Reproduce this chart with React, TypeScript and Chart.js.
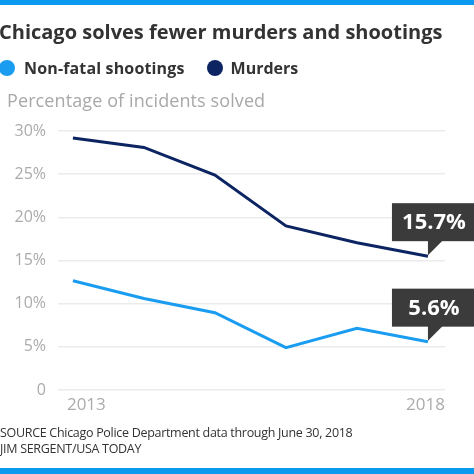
import React, { useEffect, useRef } from "react";
import { Chart, registerables } from "chart.js";

Chart.register(...registerables);

const years = [2013, 2014, 2015, 2016, 2017, 2018];
const nonFatal = [12.65, 10.6, 8.95, 4.9, 7.15, 5.6];
const murders = [29.2, 28.1, 24.9, 19.0, 17.05, 15.5];
const seriesNames = ["Non-fatal shootings", "Murders"];
const seriesColors = ["#1a9cf0", "#0c2462"];
const calloutLabels = ["5.6%", "15.7%"];
const yTicks = [0, 5, 10, 15, 20, 25, 30];
const xLabels = ["2013", "2018"];

const FONT = "'Open Sans', sans-serif";

const calloutPlugin = {
  id: "callouts",
  afterDatasetsDraw(chart: any) {
    const ctx = chart.ctx;
    ctx.save();
    chart.data.datasets.forEach((ds: any, i: number) => {
      const meta = chart.getDatasetMeta(i);
      const pt = meta.data[meta.data.length - 1];
      if (!pt) return;
      const x = pt.x;
      const y = pt.y;
      const bottom = y - 15;
      const top = bottom - 38;
      const left = x - 36;
      const right = chart.width;
      ctx.fillStyle = "#3b3b3b";
      ctx.fillRect(left, top, right - left, bottom - top);
      ctx.beginPath();
      ctx.moveTo(x, bottom - 1);
      ctx.lineTo(x + 15, bottom - 1);
      ctx.lineTo(x, y - 1);
      ctx.closePath();
      ctx.fill();
      ctx.fillStyle = "#ffffff";
      ctx.font = `bold 22px ${FONT}`;
      ctx.textAlign = "center";
      ctx.textBaseline = "middle";
      ctx.fillText(calloutLabels[i], (left + right) / 2 + 1, (top + bottom) / 2 + 1);
    });
    ctx.restore();
  },
};

const xLabelPlugin = {
  id: "xLabels",
  afterDraw(chart: any) {
    const ctx = chart.ctx;
    const xs = chart.scales.x;
    const ca = chart.chartArea;
    ctx.save();
    ctx.fillStyle = "#ababab";
    ctx.font = `17px ${FONT}`;
    ctx.textBaseline = "middle";
    ctx.textAlign = "left";
    ctx.fillText(xLabels[0], xs.getPixelForValue(Number(xLabels[0])) - 6, ca.bottom + 15);
    ctx.textAlign = "right";
    ctx.fillText(xLabels[1], ca.right, ca.bottom + 15);
    ctx.restore();
  },
};

export default function App() {
  const ref = useRef<HTMLCanvasElement>(null);

  useEffect(() => {
    if (!ref.current) return;
    const chart = new Chart(ref.current, {
      type: "line",
      data: {
        datasets: [
          {
            label: seriesNames[0],
            data: years.map((y, i) => ({ x: y, y: nonFatal[i] })),
            borderColor: seriesColors[0],
            backgroundColor: seriesColors[0],
            borderWidth: 3,
            pointRadius: 0,
            tension: 0,
          },
          {
            label: seriesNames[1],
            data: years.map((y, i) => ({ x: y, y: murders[i] })),
            borderColor: seriesColors[1],
            backgroundColor: seriesColors[1],
            borderWidth: 3,
            pointRadius: 0,
            tension: 0,
          },
        ],
      },
      options: {
        responsive: false,
        animation: false,
        devicePixelRatio: 1,
        layout: { padding: { top: 131, bottom: 84, left: 0, right: 29 } },
        plugins: { legend: { display: false }, tooltip: { enabled: false }, title: { display: false } },
        scales: {
          x: {
            type: "linear",
            min: 2012.79,
            max: 2018.24,
            display: false,
          },
          y: {
            min: 0,
            max: 30,
            afterFit: (scale: any) => {
              scale.width = 58;
            },
            afterBuildTicks: (scale: any) => {
              scale.ticks = yTicks.map((v) => ({ value: v }));
            },
            border: { display: false },
            grid: { color: "#ebebeb", lineWidth: 1.5, drawTicks: false },
            ticks: {
              padding: 12,
              color: "#ababab",
              font: { family: FONT, size: 16 },
              callback: (v: any) => (Number(v) === 0 ? "0" : `${v}%`),
            },
          },
        },
      },
      plugins: [calloutPlugin, xLabelPlugin],
    } as any);
    return () => chart.destroy();
  }, []);

  const dot = (c: string): React.CSSProperties => ({
    display: "inline-block",
    width: 16,
    height: 16,
    borderRadius: 8,
    background: c,
    verticalAlign: "middle",
  });

  return (
    <div
      style={{
        position: "fixed",
        left: 0,
        top: 0,
        width: 474,
        height: 474,
        background: "#fff",
        overflow: "hidden",
        fontFamily: FONT,
      }}
    >
      <div style={{ position: "absolute", left: 0, top: 0, width: 474, height: 5, background: "#0a99ef" }} />
      <div style={{ position: "absolute", left: 0, top: 468, width: 474, height: 6, background: "#0a99ef" }} />
      <canvas ref={ref} width={474} height={474} style={{ position: "absolute", left: 0, top: 0 }} />
      <div
        style={{
          position: "absolute",
          left: -1,
          top: 18,
          fontSize: 20,
          fontWeight: 700,
          color: "#333",
          whiteSpace: "nowrap",
          lineHeight: "28px",
        }}
      >
        Chicago solves fewer murders and shootings
      </div>
      <div
        style={{
          position: "absolute",
          left: -1,
          top: 56,
          fontSize: 16,
          fontWeight: 700,
          color: "#333",
          whiteSpace: "nowrap",
          lineHeight: "24px",
          display: "flex",
          alignItems: "center",
        }}
      >
        <span style={dot(seriesColors[0])} />
        <span style={{ marginLeft: 9, letterSpacing: 0.15 }}>{seriesNames[0]}</span>
        <span style={{ ...dot(seriesColors[1]), marginLeft: 22 }} />
        <span style={{ marginLeft: 8 }}>{seriesNames[1]}</span>
      </div>
      <div
        style={{
          position: "absolute",
          left: 7,
          top: 88,
          fontSize: 18,
          letterSpacing: 0.1,
          color: "#a8a8a8",
          whiteSpace: "nowrap",
          lineHeight: "24px",
        }}
      >
        Percentage of incidents solved
      </div>
      <div
        style={{
          position: "absolute",
          left: 0,
          top: 425,
          fontSize: 12.5,
          letterSpacing: -0.3,
          color: "#333",
          whiteSpace: "nowrap",
          lineHeight: "16px",
        }}
      >
        <div>SOURCE Chicago Police Department data through June 30, 2018</div>
        <div>JIM SERGENT/USA TODAY</div>
      </div>
    </div>
  );
}
